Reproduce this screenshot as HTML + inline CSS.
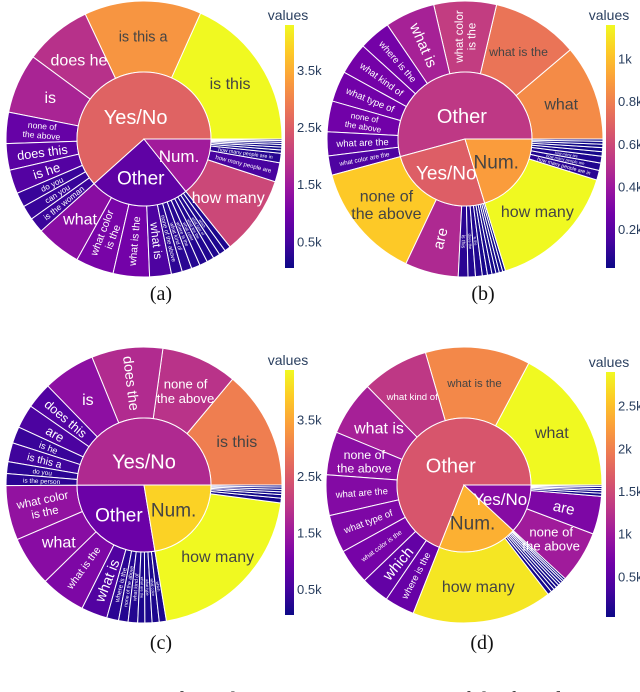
<!DOCTYPE html>
<html><head><meta charset="utf-8">
<style>
html,body{margin:0;padding:0;background:#fff;width:640px;height:692px;overflow:hidden}
svg{display:block}
</style></head>
<body>
<svg id="fig" width="640" height="692" viewBox="0 0 640 692" xmlns="http://www.w3.org/2000/svg" font-family="Liberation Sans, sans-serif"></svg>
<script>
// ---------- Panel (a) ----------
const aParents = ['Yes/No','Other','Num.'];
const aGroups = ['Yes/No','Yes/No','Yes/No','Yes/No','Yes/No','Yes/No','Yes/No','Yes/No','Yes/No','Yes/No',
  'Other','Other','Other','Other','Other','Other','Other','Other','Other','Other','Other','Other',
  'Num.','Num.','Num.','Num.','Num.','Num.','Num.','Num.','Num.'];
const aLabels = ['is this','is this a','does he','is','none of|the above','does this','is he','do you','can you','is the woman',
  'what','what color|is the','what is the','what is','none of the above','what kind of','where is the','what color','what are the','what type of','which','who is',
  'how many','how many people are','how many people are in','how many are','how many are there','how many of','how many times','how many things','how many kinds'];
const aValues = [4300,3230,1850,1650,860,730,660,400,400,420,
  1250,1050,1000,600,300,270,240,220,200,190,180,170,
  2180,530,260,90,80,70,60,50,40];
const aTicks = [500,1500,2500,3500];
const aTickText = ['0.5k','1.5k','2.5k','3.5k'];

// ---------- Panel (b) ----------
const bParents = ['Other','Yes/No','Num.'];
const bGroups = ['Other','Other','Other','Other','Other','Other','Other','Other','Other','Other',
  'Yes/No','Yes/No','Yes/No','Yes/No','Yes/No','Yes/No','Yes/No','Yes/No','Yes/No','Yes/No','Yes/No',
  'Num.','Num.','Num.','Num.','Num.','Num.','Num.','Num.','Num.'];
const bLabels = ['what','what is the','what color|is the','what is','where is the','what kind of','what type of','none of|the above','what are the','what color are the',
  'none of|the above','are','is this','does the','is the','is it','can you','do you','is there','is he','was the',
  'how many','how many people are in','how many people are','how many are','how many of','how many times','how many kinds','how many things','how many'];
const bValues = [840,760,550,440,280,280,270,270,210,170,
  1030,470,85,65,60,45,40,35,30,30,25,
  1160,85,65,60,40,35,30,25,20];
const bTicks = [200,400,600,800,1000];
const bTickText = ['0.2k','0.4k','0.6k','0.8k','1k'];

// ---------- Panel (c) ----------
const cParents = ['Yes/No','Other','Num.'];
const cGroups = ['Yes/No','Yes/No','Yes/No','Yes/No','Yes/No','Yes/No','Yes/No','Yes/No','Yes/No','Yes/No',
  'Other','Other','Other','Other','Other','Other','Other','Other','Other','Other','Other',
  'Num.','Num.','Num.','Num.','Num.','Num.','Num.'];
const cLabels = ['is this','none of|the above','does the','is','does this','are','is he','is this a','do you','is the person',
  'what color|is the','what','what is the','what is','where is the','none of the above','what kind of','what are the','what type','what color','which',
  'how many','how many people are','how many people are in','how many are','how many of','how many times','how many kinds'];
const cValues = [3000,1920,1800,1320,660,600,420,480,300,300,
  1380,1260,1140,660,300,240,240,180,180,180,180,
  4380,120,90,70,60,60,50];
const cTicks = [500,1500,2500,3500];
const cTickText = ['0.5k','1.5k','2.5k','3.5k'];

// ---------- Panel (d) ----------
const dParents = ['Other','Num.','Yes/No'];
const dGroups = ['Other','Other','Other','Other','Other','Other','Other','Other','Other','Other',
  'Num.','Num.','Num.','Num.','Num.','Num.','Num.','Num.','Num.',
  'Yes/No','Yes/No','Yes/No','Yes/No','Yes/No','Yes/No','Yes/No'];
const dLabels = ['what','what is the','what kind of','what is','none of|the above','what are the','what type of','what color is the','which','where is the',
  'how many','how many people are','how many people are in','how many are','how many of','how many times','how many kinds','how many things','how many',
  'none of|the above','are','is this','is the','does the','is it','can you'];
const dValues = [2900,2070,1320,1080,850,800,750,700,560,590,
  2770,80,70,60,60,50,50,40,40,
  1030,750,60,50,40,40,30];
const dTicks = [500,1000,1500,2000,2500];
const dTickText = ['0.5k','1k','1.5k','2k','2.5k'];

const SVGNS = 'http://www.w3.org/2000/svg';
const svg = document.getElementById('fig');
const stops = ['#0d0887','#46039f','#7201a8','#9c179e','#bd3786','#d8576b','#ed7953','#fb9f3a','#fdca26','#f0f921'];
function hex(h){return [parseInt(h.slice(1,3),16),parseInt(h.slice(3,5),16),parseInt(h.slice(5,7),16)];}
function plasma(t){
  t=Math.max(0,Math.min(1,t));
  const p=t*(stops.length-1), i=Math.min(stops.length-2,Math.floor(p)), f=p-i;
  const a=hex(stops[i]), b=hex(stops[i+1]);
  return [0,1,2].map(k=>Math.round(a[k]+(b[k]-a[k])*f));
}
function rgb(c){return 'rgb('+c.join(',')+')';}
function lum(c){return (0.299*c[0]+0.587*c[1]+0.114*c[2])/255;}
function el(tag,attrs,parent){const e=document.createElementNS(SVGNS,tag);for(const k in attrs)e.setAttribute(k,attrs[k]);(parent||svg).appendChild(e);return e;}
function pt(cx,cy,r,a){const t=a*Math.PI/180;return [cx+r*Math.cos(t),cy-r*Math.sin(t)];}
function sector(cx,cy,r0,r1,a0,a1){
  const large=(a1-a0)>180?1:0;
  const p1=pt(cx,cy,r1,a0),p2=pt(cx,cy,r1,a1);
  if(r0<=0){
    return 'M'+cx+','+cy+'L'+p1[0]+','+p1[1]+'A'+r1+','+r1+' 0 '+large+' 0 '+p2[0]+','+p2[1]+'Z';
  }
  const p3=pt(cx,cy,r0,a1),p4=pt(cx,cy,r0,a0);
  return 'M'+p1[0]+','+p1[1]+'A'+r1+','+r1+' 0 '+large+' 0 '+p2[0]+','+p2[1]+'L'+p3[0]+','+p3[1]+'A'+r0+','+r0+' 0 '+large+' 1 '+p4[0]+','+p4[1]+'Z';
}
function addText(g,x,y,lines,fs,rot,color){
  const t=el('text',{x:x,y:y,'font-size':fs.toFixed(1),fill:color,'text-anchor':'middle',transform:'rotate('+rot.toFixed(1)+' '+x.toFixed(1)+' '+y.toFixed(1)+')'},g);
  const n=lines.length;
  lines.forEach((ln,i)=>{
    const s=el('tspan',{x:x,dy:(i===0?(-(n-1)/2*1.1+0.35)*fs:1.1*fs).toFixed(1)},t);
    s.textContent=ln;
  });
  return t;
}

function drawPanel(key,cx,cy,parents,groups,labels,values,ticks,tickText,barX,barTop,barBot,capX,capY,capText){
  const R=138, r=67;
  const g=el('g',{});
  
  
  const pVals=parents.map(p=>values.reduce((s,v,i)=>s+(groups[i]===p?v:0),0));
  const pCol=parents.map(p=>{let s=0,w=0;values.forEach((v,i)=>{if(groups[i]===p){s+=v*v;w+=v;}});return s/w;});
  const total=pVals.reduce((a,b)=>a+b,0);
  const all=values.concat(pCol);
  const cmin=Math.min.apply(null,all), cmax=Math.max.apply(null,all);
  const col=v=>plasma((v-cmin)/(cmax-cmin));
  let ang=0;
  parents.forEach((p,pi)=>{
    const a0=ang, a1=ang+pVals[pi]/total*360;
    let ca=a0;
    values.forEach((v,i)=>{
      if(groups[i]!==p) return;
      const b0=ca, b1=ca+v/total*360; ca=b1;
      const c=col(v);
      const path=el('path',{d:sector(cx,cy,r,R,b0,b1),fill:rgb(c),stroke:'#fff','stroke-width':'1'},g);
      
      
      const lines=labels[i].split('|');
      const chars=Math.max.apply(null,lines.map(s=>s.length));
      const mid=(b0+b1)/2, rm=(r+R)/2, span=b1-b0, w=span*Math.PI/180;
      const arc=w*rm, depth=R-r;
      const ux=Math.abs(Math.cos(mid*Math.PI/180)), uy=Math.abs(Math.sin(mid*Math.PI/180));
      const wAv=ux*depth+uy*arc, hAv=uy*depth+ux*arc;
      const fsH=Math.min(wAv*0.8/(chars*0.55), hAv*0.75/(lines.length*1.15));
      const fsR=Math.min(arc*0.8/(lines.length*1.1), (depth-8)/(chars*0.55));
      let fs, rot;
      if(span>=18 && fsH>=fsR){fs=Math.min(16,fsH);rot=0;}
      else{fs=Math.min(15,fsR);rot=-mid;if(Math.cos(mid*Math.PI/180)<-0.05)rot=-mid+180;}
      if(fs<3.5) return;
      const tp=pt(cx,cy,rm,mid);
      const tc=lum(c)>0.55?'#444':'#fff';
      const t=addText(g,tp[0],tp[1],lines,fs,rot,tc);
      
      
    });
    const c=col(pCol[pi]);
    const pp=el('path',{d:sector(cx,cy,0,r,a0,a1),fill:rgb(c),stroke:'#fff','stroke-width':'1'},g);
    
    
    const span=a1-a0, mid=(a0+a1)/2;
    const rr=span>150?r*0.35:r*0.58;
    const tp=pt(cx,cy,rr,mid);
    const fs=span>150?20:(span>60?19:17);
    const t=addText(g,tp[0],tp[1],[p],fs,0,lum(c)>0.55?'#444':'#fff');
    
    
    ang=a1;
  });
  const cb=el('g',{},g);
  
  
  const grad=el('linearGradient',{id:'grad'+key,x1:'0',y1:'1',x2:'0',y2:'0'},cb);
  stops.forEach((s,i)=>el('stop',{offset:(i/(stops.length-1)).toFixed(3),'stop-color':s},grad));
  el('rect',{x:barX,y:barTop,width:9,height:barBot-barTop,fill:'url(#grad'+key+')'},cb);
  const vt=el('text',{x:barX+3,y:barTop-5,'font-size':'14',fill:'#2a3f5f','text-anchor':'middle'},cb);
  vt.textContent='values';
  
  
  ticks.forEach((tv,i)=>{
    const y=barBot-(tv-cmin)/(cmax-cmin)*(barBot-barTop);
    const tt=el('text',{x:barX+12,y:y+4.5,'font-size':'13',fill:'#2a3f5f'},cb);
    tt.textContent=tickText[i];
    
    
  });
  const cap=el('text',{x:capX,y:capY,'font-size':'20','font-family':'Liberation Serif, serif',fill:'#111','text-anchor':'middle'});
  cap.textContent=capText;
  
  
}

drawPanel('a',144,139,aParents,aGroups,aLabels,aValues,aTicks,aTickText,285,25,268,161,300,'(a)');
drawPanel('b',465,139,bParents,bGroups,bLabels,bValues,bTicks,bTickText,606,25,268,483,300,'(b)');
drawPanel('c',144,485,cParents,cGroups,cLabels,cValues,cTicks,cTickText,285,370,615,161,649,'(c)');
drawPanel('d',464,485,dParents,dGroups,dLabels,dValues,dTicks,dTickText,606,372,617,482,649,'(d)');

const fc=el('text',{x:0,y:707,'font-size':'22','font-family':'Liberation Serif, serif',fill:'#111'});
fc.textContent='Figure 2:  Statistics about the top-10 question types of the four datasets.';


</script>
</body></html>
